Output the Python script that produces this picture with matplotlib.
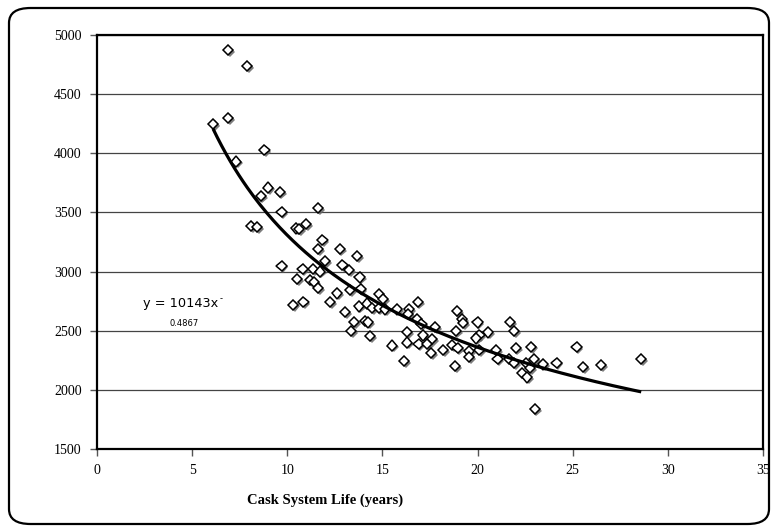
import matplotlib
matplotlib.use("Agg")
import matplotlib.pyplot as plt
import matplotlib.patheffects as pe
from matplotlib.patches import FancyBboxPatch
import numpy as np

# Data
life_years = [6.1, 6.9, 6.9, 7.9, 7.3, 8.8, 9.0, 8.6, 9.6, 9.7, 11.6, 8.1, 8.4, 10.45, 10.6,
              11.0, 11.85, 11.6, 12.0, 9.7, 10.8, 11.35, 11.7, 10.5, 11.2, 11.4, 11.6, 10.85,
              12.75, 13.65, 12.9, 13.25, 13.8, 13.85, 13.3, 12.6, 14.8, 15.05, 16.85, 10.3,
              12.25, 13.75, 14.2, 14.45, 14.8, 15.15, 15.75, 16.4, 16.35, 13.05, 13.5, 14.1,
              14.25, 13.35, 14.35, 16.3, 17.15, 15.5, 16.3, 16.9, 16.15, 16.8, 17.05, 17.6,
              17.35, 17.55, 17.75, 18.2, 18.65, 18.95, 19.55, 19.55, 18.8, 18.85, 18.9, 19.2,
              19.25, 20.0, 20.1, 19.9, 20.55, 20.1, 21.7, 21.9, 20.95, 21.05, 22.0, 22.8,
              21.65, 21.9, 22.55, 22.95, 22.75, 22.35, 22.6, 23.45, 24.15, 25.2, 25.55, 26.5,
              28.6, 23.0]
cost_values = [4250, 4870, 4300, 4740, 3930, 4030, 3710, 3640, 3675, 3505, 3535, 3385, 3375,
               3365, 3360, 3400, 3265, 3190, 3090, 3050, 3020, 3020, 3000, 2935, 2930, 2910,
               2860, 2745, 3190, 3130, 3055, 3010, 2950, 2855, 2845, 2815, 2810, 2770, 2745,
               2720, 2740, 2705, 2730, 2690, 2690, 2680, 2680, 2680, 2640, 2655, 2575, 2585,
               2570, 2500, 2455, 2490, 2460, 2375, 2400, 2390, 2245, 2595, 2560, 2430, 2390,
               2310, 2530, 2335, 2380, 2355, 2325, 2280, 2200, 2500, 2665, 2595, 2565, 2570,
               2465, 2435, 2485, 2335, 2575, 2500, 2335, 2260, 2355, 2365, 2260, 2225, 2225,
               2260, 2185, 2140, 2105, 2215, 2230, 2360, 2195, 2210, 2260, 1840]
fit_coef = 10143
fit_exp = -0.4867
fit_x_range = [6.1, 28.6]

x_ticks = [0, 5, 10, 15, 20, 25, 30, 35]
y_ticks = [1500, 2000, 2500, 3000, 3500, 4000, 4500, 5000]

W, H = 772, 532
fig = plt.figure(figsize=(W / 100, H / 100), dpi=100)
fig.patch.set_facecolor("white")

# outer rounded frame
frame = FancyBboxPatch((9 / W, 8 / H), (769 - 9) / W, (524 - 8) / H,
                       boxstyle="round,pad=0,rounding_size=0.028",
                       transform=fig.transFigure, facecolor="none",
                       edgecolor="black", linewidth=1.6, zorder=0)
fig.patches.append(frame)

ax = fig.add_axes([97 / W, 1 - 449 / H, (763 - 97) / W, (449 - 35) / H])
ax.set_xlim(0, 35)
ax.set_ylim(1500, 5000)
ax.set_xticks(x_ticks)
ax.set_yticks(y_ticks)
ax.set_xticklabels([str(v) for v in x_ticks], family="Liberation Serif", fontsize=10)
ax.set_yticklabels([str(v) for v in y_ticks], family="Liberation Serif", fontsize=10)
ax.tick_params(direction="out", length=5, width=1, color="#555555", pad=6)
for s in ax.spines.values():
    s.set_linewidth(1.6)
    s.set_color("black")
ax.yaxis.grid(True, color="#444444", linewidth=0.9)
ax.set_axisbelow(True)

# scatter with shadow
ax.plot(life_years, cost_values, linestyle="none", marker="D", markersize=5.2,
        markerfacecolor="white", markeredgecolor="black", markeredgewidth=1.1,
        path_effects=[pe.SimplePatchShadow(offset=(1.3, -1.3), shadow_rgbFace="#666666", alpha=0.85),
                      pe.Normal()], zorder=3)

# power fit
xf = np.linspace(fit_x_range[0], fit_x_range[1], 200)
yf = fit_coef * xf ** fit_exp
ax.plot(xf, yf, color="black", linewidth=2.3, zorder=4, solid_capstyle="butt")

# equation label
fig.text(143 / W, 1 - 304 / H, "y = 10143x", family="DejaVu Sans", fontsize=9.3,
         ha="left", va="center")
fig.text(220 / W, 1 - 299 / H, "-", family="DejaVu Sans", fontsize=6,
         ha="left", va="center")
fig.text(184 / W, 1 - 323 / H, "0.4867", family="DejaVu Sans", fontsize=6,
         ha="center", va="center")

fig.text(325 / W, 1 - 500 / H, "Cask System Life (years)", family="Liberation Serif",
         fontsize=10.5, fontweight="bold", ha="center", va="center")

fig.savefig("out.png", dpi=100)
